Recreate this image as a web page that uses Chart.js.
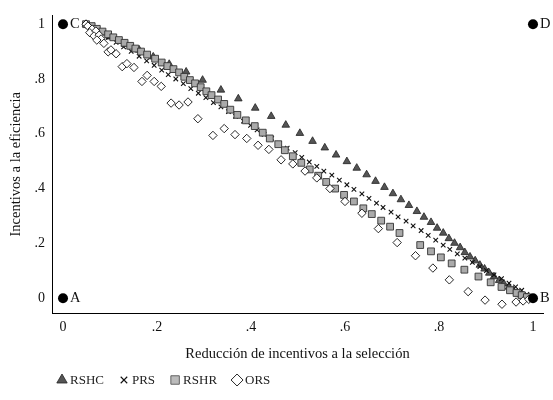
<!DOCTYPE html>
<html>
<head>
<meta charset="utf-8">
<script src="https://cdn.jsdelivr.net/npm/chart.js"></script>
<style>
  html, body { margin: 0; padding: 0; background: #fff; }
  #wrap { width: 553px; height: 400px; }
</style>
</head>
<body>
<div id="wrap"><canvas id="c" width="553" height="400"></canvas></div>
<script>
// RSHC (triangles)
const rshcX = [0.049, 0.074, 0.100, 0.132, 0.162, 0.192, 0.226, 0.262, 0.297, 0.336, 0.373, 0.409, 0.443, 0.474, 0.504, 0.531, 0.557, 0.581, 0.604, 0.625, 0.646, 0.665, 0.684, 0.702, 0.719, 0.736, 0.753, 0.768, 0.783, 0.796, 0.809, 0.821, 0.833, 0.845, 0.855, 0.866, 0.877, 0.887, 0.897, 0.907, 0.917, 0.928, 0.938, 0.949, 0.958, 0.967, 0.976, 0.984];
const rshcY = [1.000, 0.977, 0.954, 0.927, 0.906, 0.881, 0.854, 0.826, 0.796, 0.760, 0.728, 0.694, 0.664, 0.632, 0.602, 0.573, 0.549, 0.523, 0.499, 0.475, 0.451, 0.427, 0.405, 0.382, 0.360, 0.339, 0.317, 0.296, 0.277, 0.256, 0.238, 0.218, 0.201, 0.185, 0.167, 0.151, 0.137, 0.121, 0.107, 0.092, 0.079, 0.065, 0.053, 0.041, 0.029, 0.019, 0.010, 0.003];

// PRS (x marks)
const prsX = [0.049, 0.065, 0.081, 0.097, 0.113, 0.129, 0.145, 0.162, 0.178, 0.194, 0.210, 0.224, 0.240, 0.256, 0.272, 0.288, 0.304, 0.320, 0.336, 0.352, 0.367, 0.384, 0.399, 0.413, 0.428, 0.444, 0.460, 0.477, 0.494, 0.508, 0.524, 0.540, 0.555, 0.572, 0.588, 0.604, 0.619, 0.636, 0.651, 0.667, 0.681, 0.698, 0.713, 0.730, 0.745, 0.762, 0.777, 0.793, 0.809, 0.823, 0.839, 0.855, 0.871, 0.887, 0.901, 0.917, 0.933, 0.949, 0.963, 0.976, 0.987];
const prsY = [1.000, 0.986, 0.969, 0.952, 0.934, 0.917, 0.901, 0.883, 0.866, 0.850, 0.832, 0.816, 0.800, 0.783, 0.765, 0.748, 0.732, 0.714, 0.698, 0.681, 0.664, 0.646, 0.631, 0.614, 0.598, 0.583, 0.565, 0.548, 0.531, 0.514, 0.497, 0.481, 0.464, 0.449, 0.431, 0.414, 0.397, 0.381, 0.364, 0.347, 0.331, 0.314, 0.297, 0.281, 0.264, 0.247, 0.229, 0.212, 0.194, 0.178, 0.162, 0.146, 0.131, 0.115, 0.101, 0.085, 0.071, 0.055, 0.041, 0.029, 0.014];

// RSHR (squares)
const rshrX = [0.049, 0.061, 0.072, 0.084, 0.096, 0.107, 0.119, 0.131, 0.143, 0.154, 0.166, 0.179, 0.196, 0.210, 0.222, 0.235, 0.247, 0.258, 0.270, 0.281, 0.293, 0.305, 0.316, 0.330, 0.343, 0.356, 0.371, 0.389, 0.408, 0.425, 0.440, 0.458, 0.472, 0.489, 0.507, 0.525, 0.543, 0.560, 0.579, 0.598, 0.619, 0.639, 0.657, 0.677, 0.696, 0.716, 0.760, 0.783, 0.804, 0.827, 0.854, 0.884, 0.910, 0.933, 0.951, 0.965, 0.976, 0.987];
const rshrY = [1.000, 0.993, 0.983, 0.973, 0.963, 0.952, 0.942, 0.932, 0.921, 0.911, 0.900, 0.889, 0.874, 0.860, 0.847, 0.836, 0.824, 0.808, 0.796, 0.784, 0.770, 0.755, 0.741, 0.725, 0.709, 0.688, 0.669, 0.649, 0.628, 0.604, 0.583, 0.562, 0.540, 0.518, 0.494, 0.470, 0.447, 0.424, 0.400, 0.377, 0.353, 0.328, 0.307, 0.283, 0.261, 0.238, 0.194, 0.171, 0.149, 0.127, 0.104, 0.079, 0.058, 0.041, 0.029, 0.019, 0.011, 0.004];

// ORS (diamonds)
const orsX = [0.049, 0.053, 0.062, 0.057, 0.070, 0.066, 0.077, 0.081, 0.072, 0.087, 0.096, 0.102, 0.113, 0.126, 0.136, 0.151, 0.168, 0.179, 0.194, 0.209, 0.230, 0.247, 0.266, 0.287, 0.319, 0.343, 0.366, 0.391, 0.415, 0.438, 0.464, 0.489, 0.515, 0.540, 0.568, 0.600, 0.636, 0.671, 0.711, 0.750, 0.787, 0.822, 0.862, 0.898, 0.934, 0.964, 0.979, 0.991];
const orsY = [1.000, 0.993, 0.982, 0.969, 0.975, 0.957, 0.960, 0.946, 0.942, 0.930, 0.899, 0.906, 0.892, 0.845, 0.856, 0.842, 0.791, 0.813, 0.791, 0.773, 0.712, 0.705, 0.716, 0.655, 0.594, 0.619, 0.597, 0.583, 0.558, 0.543, 0.505, 0.490, 0.464, 0.439, 0.400, 0.353, 0.310, 0.254, 0.203, 0.155, 0.110, 0.067, 0.024, -0.007, -0.022, -0.014, -0.010, -0.004];

// corner points
const cornerX = [0, 1, 0, 1];
const cornerY = [0, 0, 1, 1];
const cornerLabels = ["A", "B", "C", "D"];

const tickVals = [0, 0.2, 0.4, 0.6, 0.8, 1];
const tickLabels = ["0", ".2", ".4", ".6", ".8", "1"];

const seriesNames = ["RSHC", "PRS", "RSHR", "ORS"];

function pts(xs, ys) { return xs.map((x, i) => ({ x: x, y: ys[i] })); }

const SERIF = "'Liberation Serif', 'DejaVu Serif', serif";

const datasets = [
    { label: seriesNames[0], data: pts(rshcX, rshcY), pointStyle: "triangle", pointRadius: 4.4,
      backgroundColor: "#555", borderColor: "#222", borderWidth: 0.8, order: 4 },
    { label: seriesNames[1], data: pts(prsX, prsY), pointStyle: "crossRot", pointRadius: 3.2,
      backgroundColor: "#111", borderColor: "#111", borderWidth: 1.1, order: 3 },
    { label: seriesNames[2], data: pts(rshrX, rshrY), pointStyle: "rect", pointRadius: 4.8,
      backgroundColor: "#aaa", borderColor: "#333", borderWidth: 0.9, order: 2 },
    { label: seriesNames[3], data: pts(orsX, orsY), pointStyle: "rectRot", pointRadius: 4.2,
      backgroundColor: "#fff", borderColor: "#111", borderWidth: 0.9, order: 1 },
    { label: "corners", data: pts(cornerX, cornerY), pointStyle: "circle", pointRadius: 5,
      backgroundColor: "#000", borderColor: "#000", borderWidth: 0, order: 0 }
];

// labels A-D next to the corner points
const cornerText = {
    id: "cornerText",
    afterDatasetsDraw(chart) {
        const ctx = chart.ctx, xs = chart.scales.x, ys = chart.scales.y;
        ctx.save();
        ctx.font = "14.5px " + SERIF;
        ctx.fillStyle = "#111";
        ctx.textBaseline = "middle";
        cornerLabels.forEach((t, i) => {
            ctx.fillText(t, xs.getPixelForValue(cornerX[i]) + 7, ys.getPixelForValue(cornerY[i]));
        });
        ctx.restore();
    }
};

// legend drawn at the bottom left like the original
const bottomLegend = {
    id: "bottomLegend",
    afterDraw(chart) {
        const ctx = chart.ctx;
        let x = 57;
        const y = 380;
        ctx.save();
        ctx.font = "13px " + SERIF;
        ctx.textBaseline = "middle";
        const sizes = [6, 4.6, 6, 6];
        for (let i = 0; i < 4; i++) {
            const ds = chart.data.datasets[i];
            ctx.fillStyle = i === 2 ? "#bbb" : ds.backgroundColor;
            ctx.strokeStyle = i === 2 ? "#555" : ds.borderColor;
            ctx.lineWidth = ds.borderWidth;
            Chart.helpers.drawPoint(ctx, { pointStyle: ds.pointStyle, radius: sizes[i], borderWidth: ds.borderWidth }, x + 5, y);
            ctx.fillStyle = "#222";
            ctx.fillText(seriesNames[i], x + 13, y + 1);
            x += 13 + ctx.measureText(seriesNames[i]).width + 15;
        }
        ctx.restore();
    }
};

new Chart(document.getElementById("c"), {
    type: "scatter",
    data: { datasets },
    options: {
        responsive: false,
        animation: false,
        layout: { padding: { left: 0, right: 10, top: 11, bottom: 0 } },
        plugins: { legend: { display: false }, tooltip: { enabled: false } },
        scales: {
            x: {
                type: "linear", min: -0.0234, max: 1.0213,
                grid: { display: false, drawTicks: false },
                border: { display: true, color: "#000", width: 1 },
                afterBuildTicks: s => { s.ticks = tickVals.map(v => ({ value: v })); },
                afterFit: s => { s.height = 87; },
                ticks: {
                    padding: 6, color: "#111", font: { family: SERIF, size: 14 },
                    callback: v => tickLabels[tickVals.indexOf(v)]
                },
                title: {
                    display: true, text: "Reducción de incentivos a la selección",
                    color: "#111", font: { family: SERIF, size: 14.5 }, padding: { top: 4, bottom: 37 }
                }
            },
            y: {
                type: "linear", min: -0.054, max: 1.032,
                grid: { display: false, drawTicks: false },
                border: { display: true, color: "#000", width: 1 },
                afterBuildTicks: s => { s.ticks = tickVals.map(v => ({ value: v })); },
                afterFit: s => { s.width = 52; },
                ticks: {
                    padding: 7, color: "#111", font: { family: SERIF, size: 14 },
                    callback: v => tickLabels[tickVals.indexOf(v)]
                },
                title: {
                    display: true, text: "Incentivos a la eficiencia",
                    color: "#111", font: { family: SERIF, size: 14.5 }, padding: { top: 7, bottom: 4 }
                }
            }
        }
    },
    plugins: [cornerText, bottomLegend]
});
</script>
</body>
</html>
